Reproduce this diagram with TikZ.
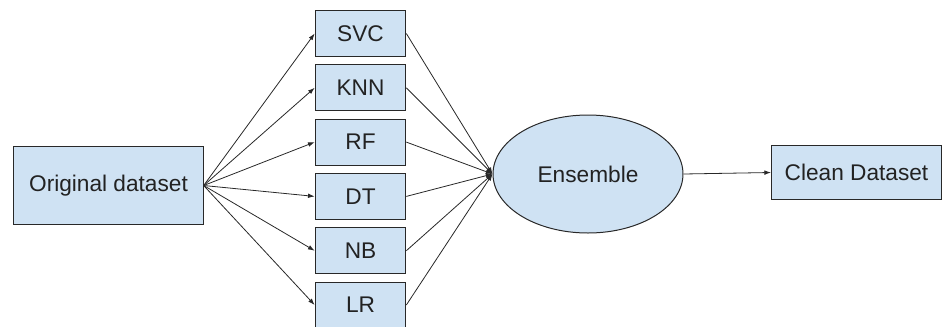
\documentclass[tikz,border=0pt]{standalone}
\usepackage{fontspec}
\setmainfont{Liberation Sans}
\usetikzlibrary{arrows.meta,shapes.geometric}
\definecolor{boxfill}{RGB}{207,226,243}
\definecolor{boxline}{RGB}{40,40,40}
\definecolor{textcol}{RGB}{34,34,34}
\begin{document}
\begin{tikzpicture}[x=0.75pt,y=0.75pt,yscale=-1,xscale=1,
	box/.style={draw=boxline,fill=boxfill,line width=0.75pt,inner sep=0pt,text=textcol,font=\fontsize{17}{20}\selectfont},
	link/.style={draw=boxline,line width=0.6pt,-{Latex[length=5pt,width=3.5pt]}}]
	\useasboundingbox (0,0) rectangle (942,326);
	
	% Input box
	\node [box,minimum width=142pt,minimum height=59pt] (orig) at (108.5,185.5) {Original dataset};
	
	% Classifier boxes
	\node [box,minimum width=68pt,minimum height=34.5pt] (svc) at (360.5,33.5) {SVC};
	\node [box,minimum width=68pt,minimum height=34.5pt] (knn) at (360.5,87.8) {KNN};
	\node [box,minimum width=68pt,minimum height=34.5pt] (rf) at (360.5,142.1) {RF};
	\node [box,minimum width=68pt,minimum height=34.5pt] (dt) at (360.5,196.4) {DT};
	\node [box,minimum width=68pt,minimum height=34.5pt] (nb) at (360.5,250.7) {NB};
	\node [box,minimum width=68pt,minimum height=34.5pt] (lr) at (360.5,305) {LR};
	
	% Ensemble ellipse
	\node [box,ellipse,minimum width=142.5pt,minimum height=88.5pt] (ens) at (588,174) {Ensemble};
	
	% Output box
	\node [box,minimum width=127.5pt,minimum height=41pt] (clean) at (856.5,172.5) {Clean Dataset};
	
	% Arrows into the classifiers
	\draw [link] (orig.east) -- (svc.west);
	\draw [link] (orig.east) -- (knn.west);
	\draw [link] (orig.east) -- (rf.west);
	\draw [link] (orig.east) -- (dt.west);
	\draw [link] (orig.east) -- (nb.west);
	\draw [link] (orig.east) -- (lr.west);
	
	% Arrows into the ensemble
	\draw [link] (svc.east) -- (ens.west);
	\draw [link] (knn.east) -- (ens.west);
	\draw [link] (rf.east) -- (ens.west);
	\draw [link] (dt.east) -- (ens.west);
	\draw [link] (nb.east) -- (ens.west);
	\draw [link] (lr.east) -- (ens.west);
	
	% Output arrow
	\draw [link] (ens.east) -- (clean.west);
	
\end{tikzpicture}
\end{document}
